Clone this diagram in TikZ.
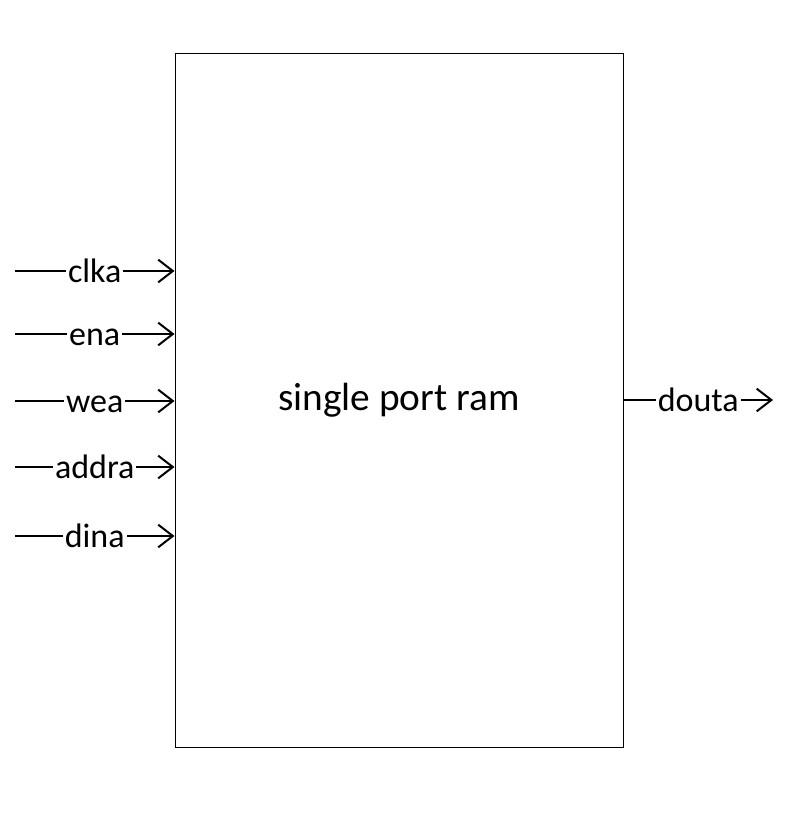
\documentclass[tikz,border=0pt]{standalone}
\usepackage{fontspec}
\setmainfont{Carlito}
\usetikzlibrary{arrows.meta}

\tikzset{
	sig/.style={line width=1.5pt, -{Straight Barb[length=11pt, width=17pt, line width=1.5pt]}},
	lbl/.style={fill=white, inner sep=1.5pt, text height=19pt, text depth=2.5pt, font=\fontsize{25.5}{30}\selectfont}
}

\begin{document}
\begin{tikzpicture}[x=0.75pt, y=-0.75pt]
	\useasboundingbox (0,0) rectangle (795,823);
	
	\node[draw, line width=0.75pt, minimum width=336pt, minimum height=519.75pt, font=\fontsize{29.5}{35}\selectfont] (ram) at (399,400.5) {single port ram};
	
	\coordinate (clka) at (15,271);
	\coordinate (ena) at (15,334);
	\coordinate (wea) at (15,401);
	\coordinate (addra) at (15,467);
	\coordinate (dina) at (15,536);
	\coordinate (douta) at (773,400);
	
	\draw[sig] (clka) -- (clka -| ram.west) node[midway, lbl]{clka};
	\draw[sig] (ena) -- (ena -| ram.west) node[midway, lbl]{ena};
	\draw[sig] (wea) -- (wea -| ram.west) node[midway, lbl]{wea};
	\draw[sig] (addra) -- (addra -| ram.west) node[midway, lbl]{addra};
	\draw[sig] (dina) -- (dina -| ram.west) node[midway, lbl]{dina};
	\draw[sig] (douta -| ram.east) -- (douta) node[midway, lbl]{douta};
\end{tikzpicture}
\end{document}
